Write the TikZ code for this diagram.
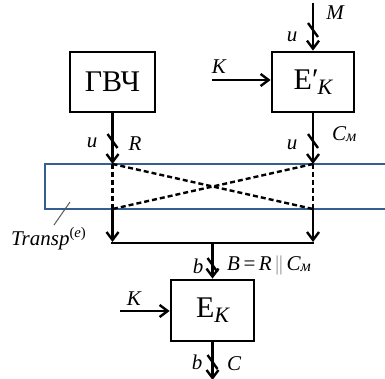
\documentclass[tikz,border=0pt]{standalone}
\usepackage{fontspec}
\setmainfont{Liberation Serif}
\usetikzlibrary{arrows.meta,calc}
\definecolor{rectblue}{RGB}{54,95,145}
\tikzset{
  blk/.style={draw=black, line width=2.8pt, minimum width=#1, minimum height=60pt, inner sep=0pt, font=\fontsize{30}{30}\selectfont},
  wire/.style={line width=2.8pt},
  arr/.style={line width=2.8pt, -{Straight Barb[length=8pt,width=12pt,line width=2.4pt]}},
  dsh/.style={line width=2.4pt, dash pattern=on 5pt off 3pt},
  lbl/.style={inner sep=0pt, font=\fontsize{21}{21}\selectfont\itshape},
  slashmark/.style={line width=2.4pt},
}
\newcommand{\slsh}[1]{\draw[slashmark] ($(#1)+(-5,-7)$) .. controls ($(#1)+(-1,-1.5)$) and ($(#1)+(1,1.5)$) .. ($(#1)+(5,7)$);}
\newcommand{\Cm}{C\raisebox{-1pt}{\fontsize{16}{16}\selectfont м}}
\begin{document}
\begin{tikzpicture}[x=1pt,y=-1pt]
\useasboundingbox (0,0) rectangle (385,379);
% blue rectangle
\draw[rectblue, line width=2.2pt] (395,164) -- (45,164) -- (45,209) -- (395,209);
% boxes
\node[blk=85pt] (gvch) at (112.5,82) {ГВЧ};
\node[blk=82pt] (ep) at (313,82) {E′\kern-1pt\raisebox{-5pt}{\fontsize{22}{22}\selectfont\itshape K}};
\node[blk=83pt, minimum height=61pt] (ek) at (212.5,310.5) {E\raisebox{-5pt}{\fontsize{22}{22}\selectfont\itshape K}};
% coordinates
\coordinate (mtop) at (313,3);
\coordinate (k1) at (212,80);
\coordinate (k2) at (120,311);
\coordinate (a1) at (112.5,164);
\coordinate (a2) at (313,164);
\coordinate (b1) at (112.5,209);
\coordinate (b2) at (313,209);
\coordinate (j1) at (112.5,243);
\coordinate (j2) at (313,243);
\coordinate (jm) at (212.5,243);
\coordinate (cend) at (212.5,380);
% connectors
\draw[arr] (mtop) -- (ep.north);
\draw[arr] (k1) -- (k1 -| ep.west);
\draw[arr] (gvch.south) -- (a1);
\draw[arr] (ep.south) -- (a2);
\draw[dsh] (a1) -- (b1);
\draw[dsh] (a2) -- (b2);
\draw[dsh] (a1) -- (b2);
\draw[dsh] (a2) -- (b1);
\draw[arr] (b1) -- ($(j1)+(0,-1)$);
\draw[arr] (b2) -- ($(j2)+(0,-1)$);
\draw[wire] ($(j1)+(-1.4,0)$) -- ($(j2)+(1.4,0)$);
\draw[arr] (jm) -- (ek.north);
\draw[arr] (k2) -- (k2 -| ek.west);
\draw[arr] (ek.south) -- (cend);
% slashes
\slsh{313,30}
\slsh{112.5,141}
\slsh{313,141}
\slsh{212.5,265}
\slsh{212.5,362}
% transp leader
\coordinate (tl1) at (70,202);
\coordinate (tl2) at (54,225);
\draw[gray!70!black, line width=1pt] (tl1) -- (tl2);
% labels
\node[lbl] (lM) at (335,13) {M};
\node[lbl] (lu1) at (292,37) {u};
\node[lbl] (lK1) at (219,67) {K};
\node[lbl] (lu2) at (92,143) {u};
\node[lbl] (lR) at (135,144) {R};
\node[lbl] (lu3) at (292,145) {u};
\node[lbl, anchor=west] (lCm) at (332,134) {\Cm};
\node[lbl] (lb1) at (198,266) {b};
\node[lbl, anchor=west] (lB) at (227,265) {B\,{\upshape =}\,R\,{\upshape\color{gray!80}|\kern-0.6pt|}\,\Cm};
\node[lbl] (lK2) at (134,299) {K};
\node[lbl] (lb2) at (197,362) {b};
\node[lbl] (lC) at (234,364) {C};
\node[lbl, anchor=base west] (lT) at (11,245) {Transp\textsuperscript{\upshape(\itshape e\upshape)}};
\end{tikzpicture}
\end{document}
